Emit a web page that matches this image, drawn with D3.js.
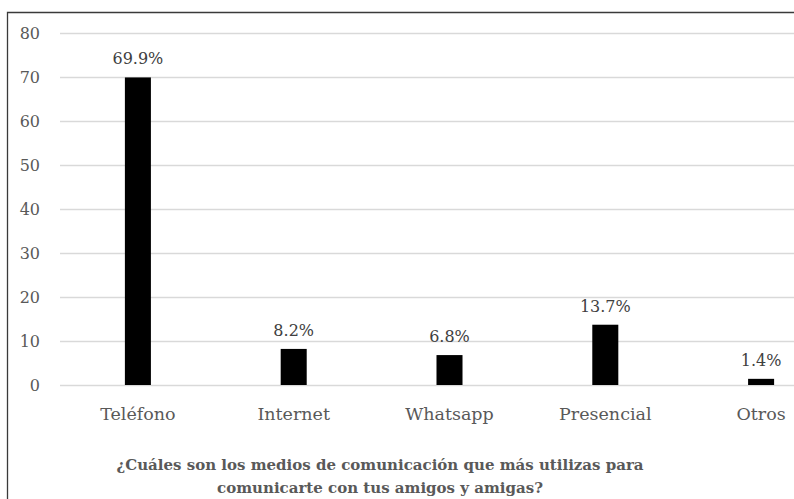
<!DOCTYPE html>
<html>
<head>
<meta charset="utf-8">
<script src="https://cdn.jsdelivr.net/npm/d3@7/dist/d3.min.js"></script>
<style>
  html, body { margin: 0; padding: 0; background: #fff; }
  svg { display: block; }
  text { font-family: "DejaVu Serif", serif; }
</style>
</head>
<body>
<svg id="chart" width="794" height="499"></svg>
<script>
// Survey answers: share of respondents per communication channel (%)
const categories = ["Teléfono", "Internet", "Whatsapp", "Presencial", "Otros"];
const values = [69.9, 8.2, 6.8, 13.7, 1.4];
const valueLabels = ["69.9%", "8.2%", "6.8%", "13.7%", "1.4%"];
const yTicks = [0, 10, 20, 30, 40, 50, 60, 70, 80];
const titleLines = [
  "¿Cuáles son los medios de comunicación que más utilizas para",
  "comunicarte con tus amigos y amigas?"
];

const svg = d3.select("#chart");

// chart frame (continues past the right and bottom edges of the view)
svg.append("path")
  .attr("d", "M7.5,499 V12.5 H794")
  .attr("fill", "none")
  .attr("stroke", "#3a3a3a")
  .attr("stroke-width", 1.3);

const plot = { left: 60, right: 839, top: 33, bottom: 385 };

const x = d3.scaleBand()
  .domain(categories)
  .range([plot.left, plot.right])
  .paddingInner(0.833)
  .paddingOuter(0.4165);

const y = d3.scaleLinear()
  .domain([0, 80])
  .range([plot.bottom, plot.top]);

// horizontal gridlines
const yAxis = d3.axisLeft(y)
  .tickValues(yTicks)
  .tickSize(-(plot.right - plot.left))
  .tickPadding(20)
  .tickFormat(d3.format("d"));

const gy = svg.append("g")
  .attr("transform", `translate(${plot.left},0)`)
  .call(yAxis);
gy.select(".domain").remove();
gy.selectAll(".tick line")
  .attr("stroke", "#d9d9d9")
  .attr("stroke-width", 1.3);
gy.selectAll(".tick text")
  .attr("fill", "#595959")
  .attr("font-size", 16)
  .attr("font-family", "DejaVu Serif, serif");

// bars
svg.append("g").selectAll("rect")
  .data(values)
  .join("rect")
  .attr("x", (d, i) => x(categories[i]))
  .attr("width", x.bandwidth())
  .attr("y", d => y(d))
  .attr("height", d => y(0) - y(d))
  .attr("fill", "#000");

// value labels above bars
svg.append("g").selectAll("text")
  .data(values)
  .join("text")
  .attr("x", (d, i) => x(categories[i]) + x.bandwidth() / 2)
  .attr("y", d => y(d) - 13)
  .attr("text-anchor", "middle")
  .attr("fill", "#404040")
  .attr("font-size", 16)
  .text((d, i) => valueLabels[i]);

// category labels
const xAxis = d3.axisBottom(x).tickSize(0).tickPadding(0);
const gx = svg.append("g")
  .attr("transform", `translate(0,${plot.bottom})`)
  .call(xAxis);
gx.select(".domain").remove();
gx.selectAll(".tick text")
  .attr("dy", null)
  .attr("y", 35)
  .attr("fill", "#595959")
  .attr("font-size", 17.5)
  .attr("font-family", "DejaVu Serif, serif");

// title
svg.append("g").selectAll("text")
  .data(titleLines)
  .join("text")
  .attr("x", 380)
  .attr("y", (d, i) => 470 + i * 23)
  .attr("text-anchor", "middle")
  .attr("fill", "#595959")
  .attr("font-weight", "bold")
  .attr("font-size", 15)
  .text(d => d);
</script>
</body>
</html>
